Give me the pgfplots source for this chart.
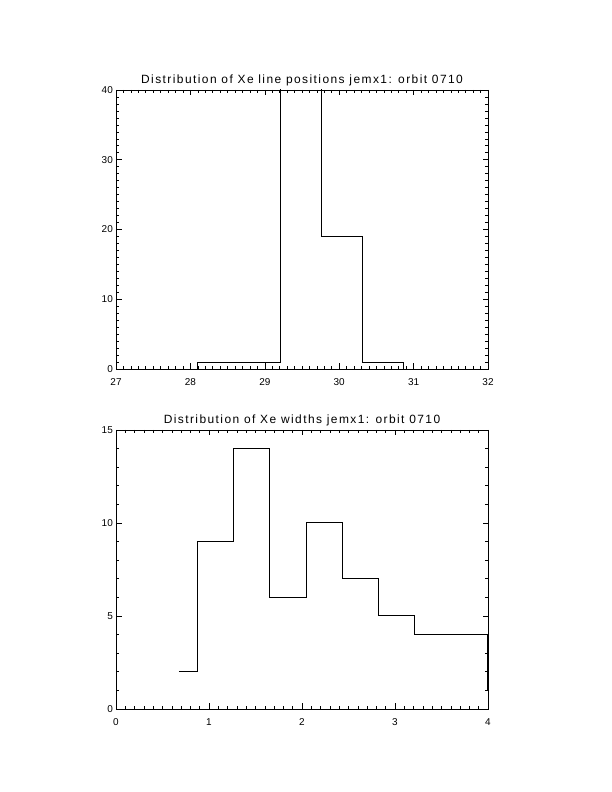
\documentclass[border=0pt]{standalone}
\usepackage{pgfplots}
\pgfplotsset{compat=1.18}
\usepackage{fontspec}
\setmainfont{Liberation Sans}
\newfontfamily\titlefont[LetterSpace=12]{Liberation Sans}
\pgfplotsset{
  idl/.style={
    scale only axis, width=372bp, height=279bp,
    axis line style={line width=0.7bp},
    every tick/.style={black, line width=0.6bp},
    tick align=inside,
    major tick length=5.5bp, minor tick length=2.8bp,
    /pgf/number format/assume math mode=true,
    tick label style={font=\fontsize{10}{12}\selectfont},
    xticklabel style={inner sep=0pt, yshift=-9bp, anchor=north},
    yticklabel style={inner sep=0pt, xshift=-3bp, anchor=east},
    title style={font=\titlefont\fontsize{12}{14}\selectfont, anchor=base, at={(0.5,1)}, yshift=1bp, inner sep=0pt},
    clip=true,
  }
}
\begin{document}
\begin{tikzpicture}[x=1bp,y=1bp]
\fill[white] (0,0) rectangle (612,792);
\begin{axis}[idl, at={(116bp,423bp)}, anchor=south west,
  xmin=27, xmax=32, ymin=0, ymax=40,
  xtick={27,28,29,30,31,32}, ytick={0,10,20,30,40},
  minor x tick num=9, minor y tick num=9,
  title={Distribution of Xe line positions jemx1: orbit 0710}]
\addplot[const plot, black, line width=1bp] coordinates {
  (28.09,0) (28.09,1) (28.65,1) (29.21,60) (29.76,19) (30.31,1) (30.86,0)
};
\end{axis}
\begin{axis}[idl, at={(116bp,83bp)}, anchor=south west,
  xmin=0, xmax=4, ymin=0, ymax=15,
  xtick={0,1,2,3,4}, ytick={0,5,10,15},
  minor x tick num=9, minor y tick num=4,
  title={Distribution of Xe widths jemx1: orbit 0710}]
\addplot[const plot, black, line width=1bp] coordinates {
  (0.677,2) (0.874,9) (1.265,14) (1.649,6) (2.05,10) (2.434,7) (2.82,5) (3.21,4) (3.60,4) (3.99,1) (4.38,1)
};
\end{axis}
\end{tikzpicture}
\end{document}
